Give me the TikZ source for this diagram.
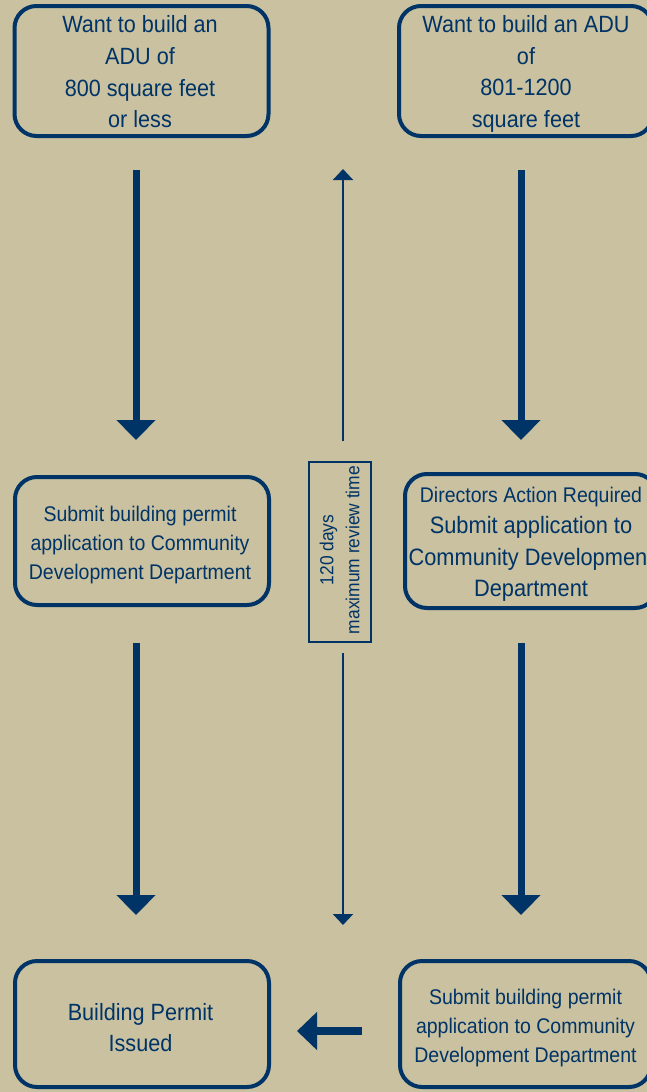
\documentclass[tikz,border=0pt]{standalone}
\usepackage{fontspec}
\setmainfont[FakeStretch=0.92]{Liberation Sans}
\usetikzlibrary{arrows.meta}
\definecolor{bgtan}{RGB}{201,193,160}
\definecolor{navy}{RGB}{0,51,102}
\tikzset{
  box/.style={draw=navy, line width=4pt, rounded corners=22pt, inner sep=0pt, outer sep=0pt, minimum width=254pt},
  bigtxt/.style={text=navy, align=center, inner sep=0pt, font=\fontsize{23.5}{31.7}\selectfont},
  smalltxt/.style={text=navy, align=center, inner sep=0pt, font=\fontsize{21.2}{29}\selectfont},
  fatarrow/.style={draw=navy, line width=7pt, -{Triangle[length=20pt,width=38pt]}},
  thinarrow/.style={draw=navy, line width=2pt, -{Triangle[length=11pt,width=20pt]}},
  revbox/.style={draw=navy, line width=2pt, inner sep=0pt, outer sep=0pt, minimum width=62pt, minimum height=180pt}
}
\begin{document}
\begin{tikzpicture}[x=1pt, y=-1pt]
\useasboundingbox (0,0) rectangle (647,1092);
\fill[bgtan] (0,0) rectangle (647,1092);
\clip (0,0) rectangle (647,1092);
% boxes
\node[box, minimum height=130pt] (tl) at (141.5,71) {};
\node[box, minimum height=130pt] (tr) at (526,71) {};
\node[box, minimum height=128pt] (ml) at (142,541) {};
\node[box, minimum height=134pt, minimum width=252pt] (mr) at (531,541) {};
\node[box, minimum height=126pt] (bl) at (142,1024) {};
\node[box, minimum height=126pt, minimum width=251pt] (br) at (525.5,1024) {};
% texts
\node[bigtxt] (tlt) at (140,72) {Want to build an\\ADU of\\800 square feet\\or less};
\node[bigtxt] (trt) at (526,74) {Want to build an ADU\\of\\801-1200\\square feet};
\node[smalltxt] (mlt) at (140,545) {Submit building permit\\application to Community\\Development Department};
\node[text=navy, align=center, inner sep=0pt, font=\fontsize{23.7}{31.5}\selectfont] (mrt) at (531,544.5) {{\fontsize{21.2}{31.5}\selectfont Directors Action Required}\\Submit application to\\Community Development\\Department};
\node[bigtxt] (blt) at (140.5,1027.5) {Building Permit\\Issued};
\node[smalltxt] (brt) at (525.5,1028.5) {Submit building permit\\application to Community\\Development Department};
% review box
\node[revbox] (rev) at (339.5,552) {};
\node[text=navy, align=center, inner sep=0pt, rotate=90, font=\fontsize{18.9}{26}\selectfont] (revt) at (339.5,550) {120 days\\maximum review time};
\coordinate (revtop) at (343,169);
\coordinate (revbot) at (343,925);
% thick arrows
\draw[fatarrow, shorten <=34pt, shorten >=37pt] ([xshift=-5.5pt]tl.south) -- ([xshift=-6pt]ml.north);
\draw[fatarrow, shorten <=38pt, shorten >=46pt] ([xshift=-6pt]ml.south) -- ([xshift=-6pt]bl.north);
\draw[fatarrow, shorten <=34pt, shorten >=34pt] ([xshift=-5pt]tr.south) -- ([xshift=-10pt]mr.north);
\draw[fatarrow, shorten <=35pt, shorten >=46pt] ([xshift=-10pt]mr.south) -- ([xshift=-4.5pt]br.north);
\draw[draw=navy, line width=8pt, -{Triangle[length=20pt,width=37pt]}, shorten <=38pt, shorten >=28pt] ([yshift=-7pt]br.west) -- ([yshift=-7pt]bl.east);
% thin arrows
\draw[thinarrow, shorten <=21pt] ([xshift=3.5pt]rev.north) -- (revtop);
\draw[thinarrow, shorten <=11pt] ([xshift=3.5pt]rev.south) -- (revbot);
\end{tikzpicture}
\end{document}
